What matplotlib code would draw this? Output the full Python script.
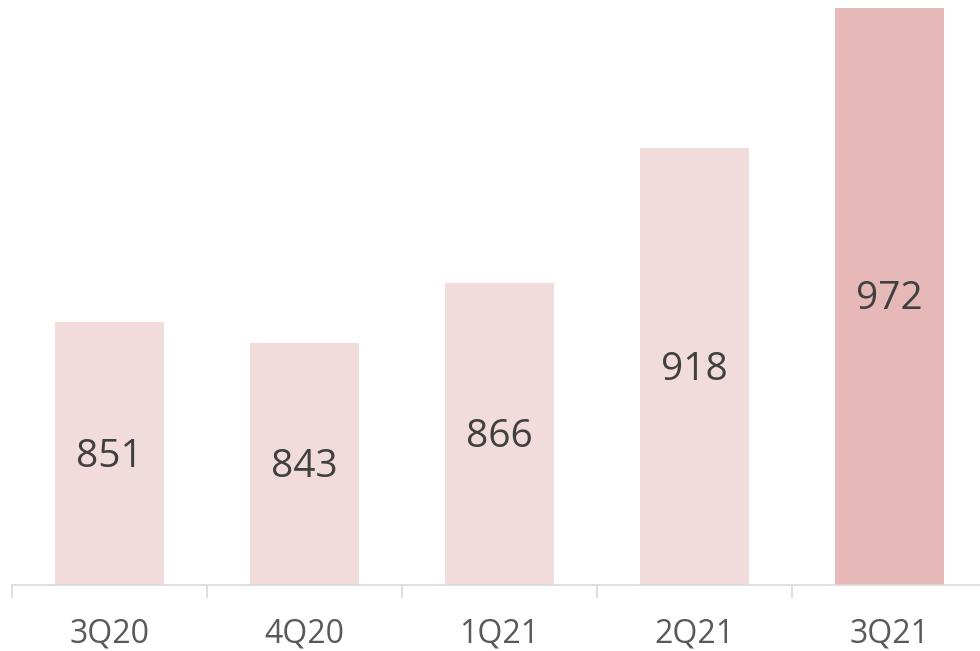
import matplotlib
matplotlib.use("Agg")
import matplotlib.pyplot as plt
import matplotlib.transforms as mtransforms
import numpy as np

plt.rcParams['font.family'] = ['Open Sans', 'DejaVu Sans']

quarters = ['3Q20', '4Q20', '1Q21', '2Q21', '3Q21']
values = [851, 843, 866, 918, 972]
bar_colors = ['#F2DCDB', '#F2DCDB', '#F2DCDB', '#F2DCDB', '#E6B9B8']

fig = plt.figure(figsize=(9.8, 6.51), dpi=100)
ax = fig.add_axes([12 / 980, 66 / 651, 975 / 980, 585 / 651])

x = np.arange(len(quarters))
bars = ax.bar(x, values, width=0.56, color=bar_colors, zorder=2)

# 값 라벨 (막대 가운데, 살짝 아래로)
shift = mtransforms.offset_copy(ax.transData, fig=fig, x=0, y=-3, units='dots')
for xi, v in zip(x, values):
    ax.text(xi, (750 + v) / 2, str(v), ha='center', va='center',
            fontsize=28, color='#404040', zorder=3, transform=shift)

ax.set_xlim(-0.5, len(quarters) - 0.5)
ax.set_ylim(750, 975)

for s in ['top', 'right', 'left']:
    ax.spines[s].set_visible(False)
ax.spines['bottom'].set_color('#D9D9D9')
ax.spines['bottom'].set_linewidth(1.2)

ax.set_yticks([])
ax.set_xticks(x)
ax.set_xticklabels(quarters, fontsize=23, color='#595959')
ax.tick_params(axis='x', which='major', length=0, pad=23.5)
ax.set_xticks(np.arange(-0.5, len(quarters)), minor=True)
ax.tick_params(axis='x', which='minor', length=9, width=1.2, color='#D9D9D9')

fig.savefig('out.png', dpi=100, facecolor='white')
